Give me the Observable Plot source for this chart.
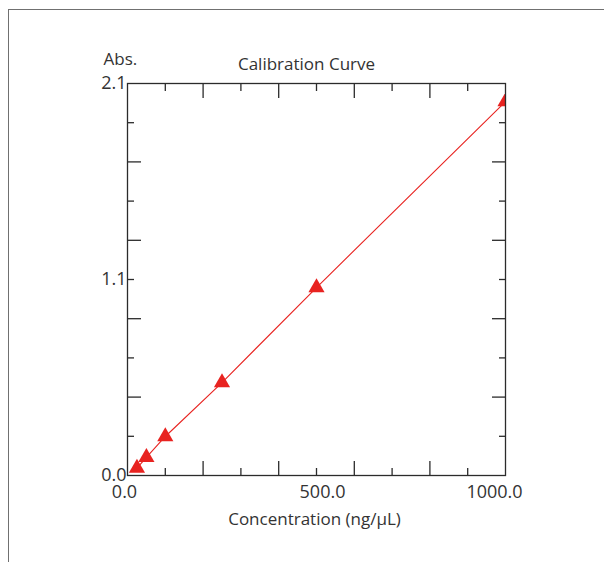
<!DOCTYPE html>
<html><head><meta charset="utf-8">
<script src="https://cdn.jsdelivr.net/npm/d3@7"></script>
<script src="https://cdn.jsdelivr.net/npm/@observablehq/plot@0.6"></script>
<style>
body{margin:0;background:#fff;}
#wrap{position:relative;width:604px;height:562px;overflow:hidden;}
#border{position:absolute;left:8px;top:9px;width:620px;height:580px;border-left:1.5px solid #707070;border-top:1.5px solid #707070;}
#chart{position:absolute;left:0;top:0;}
</style></head><body>
<div id="wrap"><div id="border"></div><div id="chart"></div></div>
<script>
// ---- data ----
const concentration = [25, 50, 100, 250, 500, 1000];
const absorbance = [0.040, 0.097, 0.209, 0.498, 1.007, 2.003];
const xTickMajor = [200, 400, 600, 800];
const xTickMinor = [100, 300, 500, 700, 900];
const xTickLabelValues = [0, 500, 1000];
const xTickLabels = ["0.0", "500.0", "1000.0"];
const yTickMajor = [0.42, 0.84, 1.26, 1.68];
const yTickMinor = [0.21, 0.63, 1.05, 1.47, 1.89];
const yTickLabelValues = [0, 1.05, 2.1];
const yTickLabels = ["0.0", "1.1", "2.1"];
const chartTitle = "Calibration Curve";
const xTitle = "Concentration (ng/µL)";
const yTitle = "Abs.";

const data = concentration.map((c, i) => ({c, a: absorbance[i]}));

const red = "#e82320";
const axisColor = "#2b2b2b";
const textColor = "#333333";
const fs = 17;
const tickFs = 18;
const tickStyle = {fill: "none", stroke: axisColor, strokeWidth: 1.3, label: null};
// horizontal nudges of the x tick labels, as placed in the original figure
const xLabelNudge = [-3, 6, -11];

const tickMarks = [];
for (const anchor of ["bottom", "top"]) {
  tickMarks.push(Plot.axisX(xTickMajor, {anchor, tickSize: -14, ...tickStyle}));
  tickMarks.push(Plot.axisX(xTickMinor, {anchor, tickSize: -7, ...tickStyle}));
}
for (const anchor of ["left", "right"]) {
  tickMarks.push(Plot.axisY(yTickMajor, {anchor, tickSize: -14, ...tickStyle}));
  tickMarks.push(Plot.axisY(yTickMinor, {anchor, tickSize: -7, ...tickStyle}));
}
const xLabelMarks = xTickLabelValues.map((v, i) =>
  Plot.axisX([v], {anchor: "bottom", tickSize: 0, tickPadding: 10, fill: textColor, fontSize: tickFs,
    dx: xLabelNudge[i], tickFormat: () => xTickLabels[i], label: null}));

const chart = Plot.plot({
  width: 604,
  height: 562,
  marginLeft: 127,
  marginRight: 99,
  marginTop: 83,
  marginBottom: 87,
  style: {fontFamily: "'Open Sans', sans-serif", fontSize: fs + "px", color: textColor, background: "transparent"},
  x: {domain: [0, 1000]},
  y: {domain: [0, 2.1]},
  marks: [
    ...tickMarks,
    ...xLabelMarks,
    Plot.axisY(yTickLabelValues, {anchor: "left", tickSize: 0, tickPadding: 1, fill: textColor, fontSize: tickFs,
      tickFormat: d => yTickLabels[yTickLabelValues.indexOf(d)], label: null}),
    Plot.line(data, {x: "c", y: "a", stroke: red, strokeWidth: 1.1}),
    Plot.dot(data, {x: "c", y: "a", symbol: "triangle", r: 6, fill: red, stroke: "none", clip: true}),
    Plot.frame({stroke: axisColor, strokeWidth: 1.3}),
    Plot.text([chartTitle], {frameAnchor: "top", text: d => d, dx: -10, dy: -26, fill: textColor, fontSize: fs}),
    Plot.text([yTitle], {frameAnchor: "top-left", text: d => d, dx: -24, dy: -31, fill: textColor, fontSize: fs}),
    Plot.text([xTitle], {frameAnchor: "bottom", text: d => d, dx: -2, dy: 49, fill: textColor, fontSize: fs})
  ]
});
document.getElementById("chart").appendChild(chart);
</script>
</body></html>
